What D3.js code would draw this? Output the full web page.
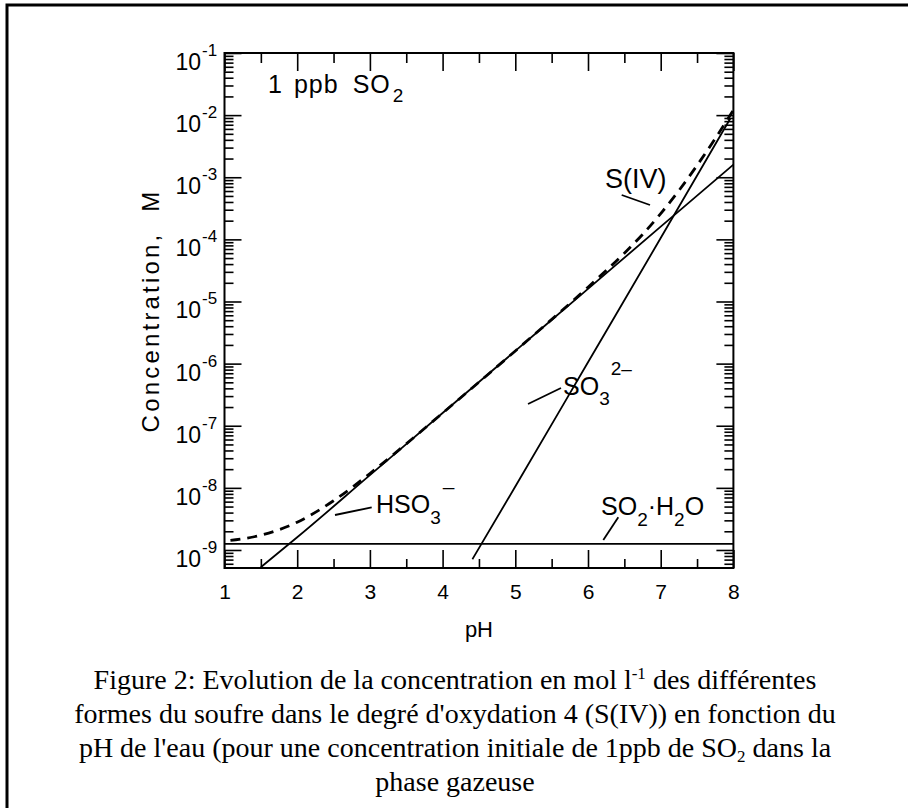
<!DOCTYPE html>
<html>
<head>
<meta charset="utf-8">
<script src="https://cdn.jsdelivr.net/npm/d3@7"></script>
<style>
  body { margin: 0; background: #fff; }
  text { fill: #000; }
  .lab { font-family: "Liberation Sans", Arial, sans-serif; }
  .cap { font-family: "Liberation Serif", "Times New Roman", serif; font-size: 28px; }
</style>
</head>
<body>
<script>
// values (concentration in mol/l vs pH)
var pH_so2 = [1, 8],
    so2 = [1.25e-9, 1.25e-9];

var pH_hso3 = [1.5, 2, 3, 4, 5, 6, 7, 8],
    hso3 = [5.3e-10, 1.6e-9, 1.6e-8, 1.6e-7, 1.6e-6, 1.6e-5, 1.6e-4, 1.6e-3];

var pH_so3 = [4.41, 5, 6, 7, 7.96],
    so3 = [7.1e-10, 1.05e-8, 1.05e-6, 1.05e-4, 8.9e-3];

var pH_siv = [1, 1.25, 1.5, 2, 2.5, 3, 3.5, 4, 5, 6, 6.5, 6.75, 7, 7.25, 7.5, 7.75, 8],
    siv = [1.39e-9, 1.51e-9, 1.73e-9, 2.8e-9, 6.2e-9, 1.7e-8, 5.1e-8, 1.6e-7, 1.6e-6,
           1.7e-5, 6.0e-5, 1.2e-4, 2.6e-4, 6.1e-4, 1.55e-3, 4.2e-3, 1.2e-2];

var xMajor = [1, 2, 3, 4, 5, 6, 7, 8],
    xMinor = [1.5, 2.5, 3.5, 4.5, 5.5, 6.5, 7.5],
    yExp = [-1, -2, -3, -4, -5, -6, -7, -8, -9];

var captionLines = [
  ["Figure 2: Evolution de la concentration en mol l", "-1", " des différentes"],
  ["formes du soufre dans le degré d'oxydation 4 (S(IV)) en fonction du"],
  ["pH de l'eau (pour une concentration initiale de 1ppb de SO", "2", " dans la"],
  ["phase gazeuse"]
];

window.onload = drawChart();

function drawChart(){

    var width = 908, height = 808;
    var pl = 224.5, pr = 733.4, pt = 53, pb = 568;

    var svg = d3.select("body").append("svg")
        .attr("width", width)
        .attr("height", height);

    svg.append("rect").attr("width", width).attr("height", height).attr("fill", "#fff");

    // partial frame around the figure (cropped scan)
    svg.append("path")
        .attr("d", "M7," + height + "V5H" + width)
        .attr("fill", "none").attr("stroke", "#000").attr("stroke-width", 3);

    var x = d3.scaleLinear().domain([1, 8]).range([pl, pr]);
    var y = d3.scaleLog().domain([Math.pow(10, -9.29), 0.1]).range([pb, pt]);

    // minor log ticks 2..9 per decade
    var yMinor = [];
    for (var e = -10; e <= -2; e++) {
        for (var m = 2; m <= 9; m++) {
            var v = m * Math.pow(10, e);
            if (v > y.domain()[0] && v < 0.1) yMinor.push(v);
        }
    }
    var yMajor = yExp.map(function(e){ return Math.pow(10, e); });

    function addAxis(gen, tx, ty, values, size){
        var g = svg.append("g")
            .attr("transform", "translate(" + tx + "," + ty + ")")
            .call(gen.tickValues(values).tickSize(-size).tickFormat(""));
        g.select(".domain").remove();
        g.selectAll(".tick line").attr("stroke", "#000").attr("stroke-width", 1.6);
        return g;
    }

    addAxis(d3.axisLeft(y), pl, 0, yMinor, 9);
    addAxis(d3.axisLeft(y), pl, 0, yMajor, 17);
    addAxis(d3.axisRight(y), pr, 0, yMinor, 9);
    addAxis(d3.axisRight(y), pr, 0, yMajor, 17);
    addAxis(d3.axisTop(x), 0, pt, xMinor, 10);
    addAxis(d3.axisTop(x), 0, pt, xMajor, 18);
    addAxis(d3.axisBottom(x), 0, pb, xMinor, 9);

    // bottom major ticks with labels
    var xb = svg.append("g")
        .attr("transform", "translate(0," + pb + ")")
        .call(d3.axisBottom(x).tickValues(xMajor).tickSize(-18).tickPadding(16).tickFormat(d3.format("d")));
    xb.select(".domain").remove();
    xb.selectAll(".tick line").attr("stroke", "#000").attr("stroke-width", 1.6);
    xb.selectAll(".tick text")
        .attr("class", "lab")
        .attr("font-size", 21)
        .attr("fill", "#000");

    // frame of the plot
    svg.append("rect")
        .attr("x", pl).attr("y", pt)
        .attr("width", pr - pl).attr("height", pb - pt)
        .attr("fill", "none").attr("stroke", "#000").attr("stroke-width", 2);

    // y tick labels 10^-n
    var yl = svg.append("g").attr("class", "lab");
    yExp.forEach(function(e){
        var yy = y(Math.pow(10, e));
        yl.append("text")
            .attr("x", 201).attr("y", yy + 17)
            .attr("text-anchor", "end")
            .attr("font-size", 23)
            .text("10");
        yl.append("text")
            .attr("x", 202).attr("y", yy + 3)
            .attr("font-size", 17)
            .text("-" + (-e));
    });

    // axis titles
    svg.append("text")
        .attr("class", "lab")
        .attr("x", x(4.5)).attr("y", 637)
        .attr("text-anchor", "middle")
        .attr("font-size", 22)
        .text("pH");

    svg.append("text")
        .attr("class", "lab")
        .attr("transform", "translate(159," + ((pt + pb) / 2) + ") rotate(-90)")
        .attr("text-anchor", "middle")
        .attr("font-size", 24)
        .attr("letter-spacing", 3.2)
        .attr("xml:space", "preserve")
        .text("Concentration,  M");

    // curves
    var line = d3.line()
        .x(function(d){ return x(d[0]); })
        .y(function(d){ return y(d[1]); })
        .curve(d3.curveMonotoneX);

    function zip(a, b){ return a.map(function(v, i){ return [v, b[i]]; }); }

    var plot = svg.append("g");
    plot.append("path").datum(zip(pH_so2, so2))
        .attr("d", line).attr("fill", "none").attr("stroke", "#000").attr("stroke-width", 1.8);
    plot.append("path").datum(zip(pH_hso3, hso3))
        .attr("d", line).attr("fill", "none").attr("stroke", "#000").attr("stroke-width", 1.8);
    plot.append("path").datum(zip(pH_so3, so3))
        .attr("d", line).attr("fill", "none").attr("stroke", "#000").attr("stroke-width", 1.8);
    plot.append("path").datum(zip(pH_siv, siv))
        .attr("d", line).attr("fill", "none").attr("stroke", "#000")
        .attr("stroke-width", 2.8).attr("stroke-dasharray", "10,7").attr("stroke-dashoffset", -6);

    // labels and leader lines
    function leader(x1, y1, x2, y2){
        svg.append("line")
            .attr("x1", x1).attr("y1", y1).attr("x2", x2).attr("y2", y2)
            .attr("stroke", "#000").attr("stroke-width", 1.8);
    }

    var ann = svg.append("g").attr("class", "lab");

    // 1 ppb SO2
    var t = ann.append("text").attr("x", 268).attr("y", 93).attr("font-size", 25).attr("xml:space", "preserve");
    t.append("tspan").text("1");
    t.append("tspan").attr("dx", 12).attr("letter-spacing", 1).text("ppb");
    t.append("tspan").attr("dx", 14).attr("letter-spacing", 1).text("SO");
    t.append("tspan").attr("dx", 2).attr("dy", 9).attr("font-size", 19).text("2");

    // S(IV)
    ann.append("text").attr("x", 605).attr("y", 188).attr("font-size", 27).text("S(IV)");
    leader(621.7, 195, 650, 205);

    // HSO3-
    t = ann.append("text").attr("x", 376).attr("y", 513).attr("font-size", 25);
    t.append("tspan").text("HSO");
    t.append("tspan").attr("dy", 11).attr("font-size", 19).text("3");
    t.append("tspan").attr("dx", 2).attr("dy", -30).attr("font-size", 21).text("\u2013");
    leader(335, 515, 371.7, 507.3);

    // SO3 2-
    t = ann.append("text").attr("x", 563).attr("y", 395).attr("font-size", 25);
    t.append("tspan").text("SO");
    t.append("tspan").attr("dy", 10).attr("font-size", 19).text("3");
    t.append("tspan").attr("dx", 1).attr("dy", -30).attr("font-size", 19).text("2\u2013");
    leader(528, 404, 561, 388);

    // SO2.H2O
    t = ann.append("text").attr("x", 601).attr("y", 515).attr("font-size", 25);
    t.append("tspan").text("SO");
    t.append("tspan").attr("dy", 11).attr("font-size", 19).text("2");
    t.append("tspan").attr("dy", -11).text("\u00b7H");
    t.append("tspan").attr("dy", 11).attr("font-size", 19).text("2");
    t.append("tspan").attr("dy", -11).text("O");
    leader(603.3, 540, 618.3, 517.3);

    // caption
    var cap = svg.append("g").attr("class", "cap");
    captionLines.forEach(function(parts, i){
        var tx = cap.append("text")
            .attr("x", 455).attr("y", 689 + i * 34)
            .attr("text-anchor", "middle");
        parts.forEach(function(p, j){
            if (j === 1) {
                var up = i === 0;
                tx.append("tspan").attr("dy", up ? -10 : 5).attr("font-size", 17).text(p);
            } else if (j === 2) {
                tx.append("tspan").attr("dy", i === 0 ? 10 : -5).text(p);
            } else {
                tx.append("tspan").text(p);
            }
        });
    });
}
</script>
</body>
</html>
